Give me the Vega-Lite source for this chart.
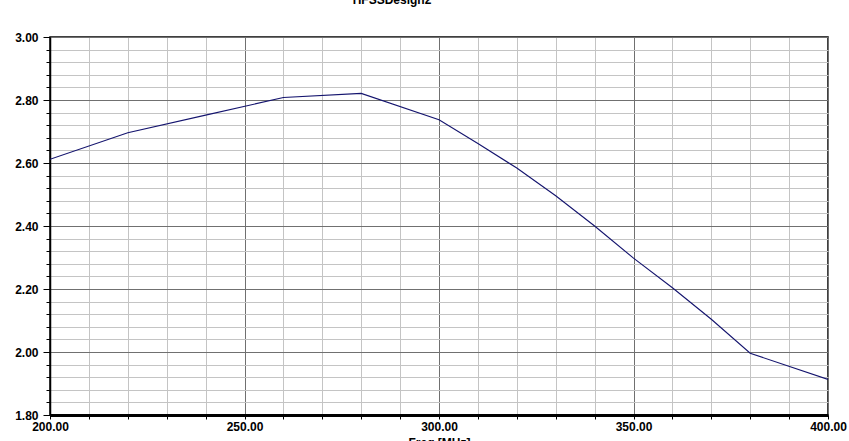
{
  "$schema": "https://vega.github.io/schema/vega-lite/v6.json",
  "width": 778,
  "height": 378,
  "autosize": "none",
  "padding": {"left": 50, "top": 37, "right": 21, "bottom": 26},
  "background": "white",
  "title": {
    "text": "HFSSDesign2",
    "font": "Liberation Sans",
    "fontSize": 12,
    "fontWeight": "bold",
    "color": "#000000",
    "anchor": "middle",
    "baseline": "alphabetic",
    "offset": 15,
    "dx": -47
  },
  "config": {
    "view": {"stroke": "#000000", "strokeWidth": 1.5},
    "axis": {
      "labelFont": "Liberation Sans",
      "labelFontSize": 12,
      "labelFontWeight": "bold",
      "labelColor": "#000000",
      "titleFont": "Liberation Sans",
      "titleFontSize": 12,
      "titleFontWeight": "bold",
      "titleColor": "#000000",
      "domainColor": "#000000",
      "tickColor": "#000000"
    }
  },
  "data": {
    "values": [
      {"freq": 200, "value": 2.612},
      {"freq": 220, "value": 2.696},
      {"freq": 240, "value": 2.752},
      {"freq": 260, "value": 2.808},
      {"freq": 280, "value": 2.821},
      {"freq": 300, "value": 2.737},
      {"freq": 310, "value": 2.662},
      {"freq": 320, "value": 2.584},
      {"freq": 330, "value": 2.496},
      {"freq": 340, "value": 2.400},
      {"freq": 350, "value": 2.298},
      {"freq": 360, "value": 2.204},
      {"freq": 370, "value": 2.104},
      {"freq": 380, "value": 1.996},
      {"freq": 400, "value": 1.913}
    ]
  },
  "mark": {"type": "line", "color": "#14146e", "strokeWidth": 1.1, "clip": true},
  "encoding": {
    "x": {
      "field": "freq",
      "type": "quantitative",
      "scale": {"domain": [200, 400], "nice": false, "zero": false},
      "axis": {
        "title": "Freq [MHz]",
        "titleY": 22,
        "titleBaseline": "top",
        "values": [200, 210, 220, 230, 240, 250, 260, 270, 280, 290, 300, 310, 320, 330, 340, 350, 360, 370, 380, 390, 400],
        "labelExpr": "datum.value % 50 === 0 ? format(datum.value, '.2f') : ''",
        "labelDx": -4,
        "labelPadding": 2,
        "labelBaseline": "top",
        "labelFlush": false,
        "labelOverlap": false,
        "tickSize": 4,
        "domainWidth": 3,
        "grid": true,
        "gridColor": {"condition": {"test": "datum.value % 50 === 0", "value": "#707070"}, "value": "#c4c4c4"},
        "gridWidth": 1
      }
    },
    "y": {
      "field": "value",
      "type": "quantitative",
      "scale": {"domain": [1.8, 3.0], "nice": false, "zero": false},
      "axis": {
        "title": null,
        "values": [1.8, 1.84, 1.88, 1.92, 1.96, 2.0, 2.04, 2.08, 2.12, 2.16, 2.2, 2.24, 2.28, 2.32, 2.36, 2.4, 2.44, 2.48, 2.52, 2.56, 2.6, 2.64, 2.68, 2.72, 2.76, 2.8, 2.84, 2.88, 2.92, 2.96, 3.0],
        "labelExpr": "abs(round(datum.value * 5) - datum.value * 5) < 0.01 ? format(datum.value, '.2f') : ''",
        "labelPadding": 5,
        "labelFlush": false,
        "labelOverlap": false,
        "tickSize": {"condition": {"test": "abs(round(datum.value * 5) - datum.value * 5) < 0.01", "value": 7}, "value": 4},
        "domainWidth": 1.5,
        "grid": true,
        "gridColor": {"condition": {"test": "abs(round(datum.value * 5) - datum.value * 5) < 0.01", "value": "#707070"}, "value": "#c4c4c4"},
        "gridWidth": 1
      }
    }
  }
}
